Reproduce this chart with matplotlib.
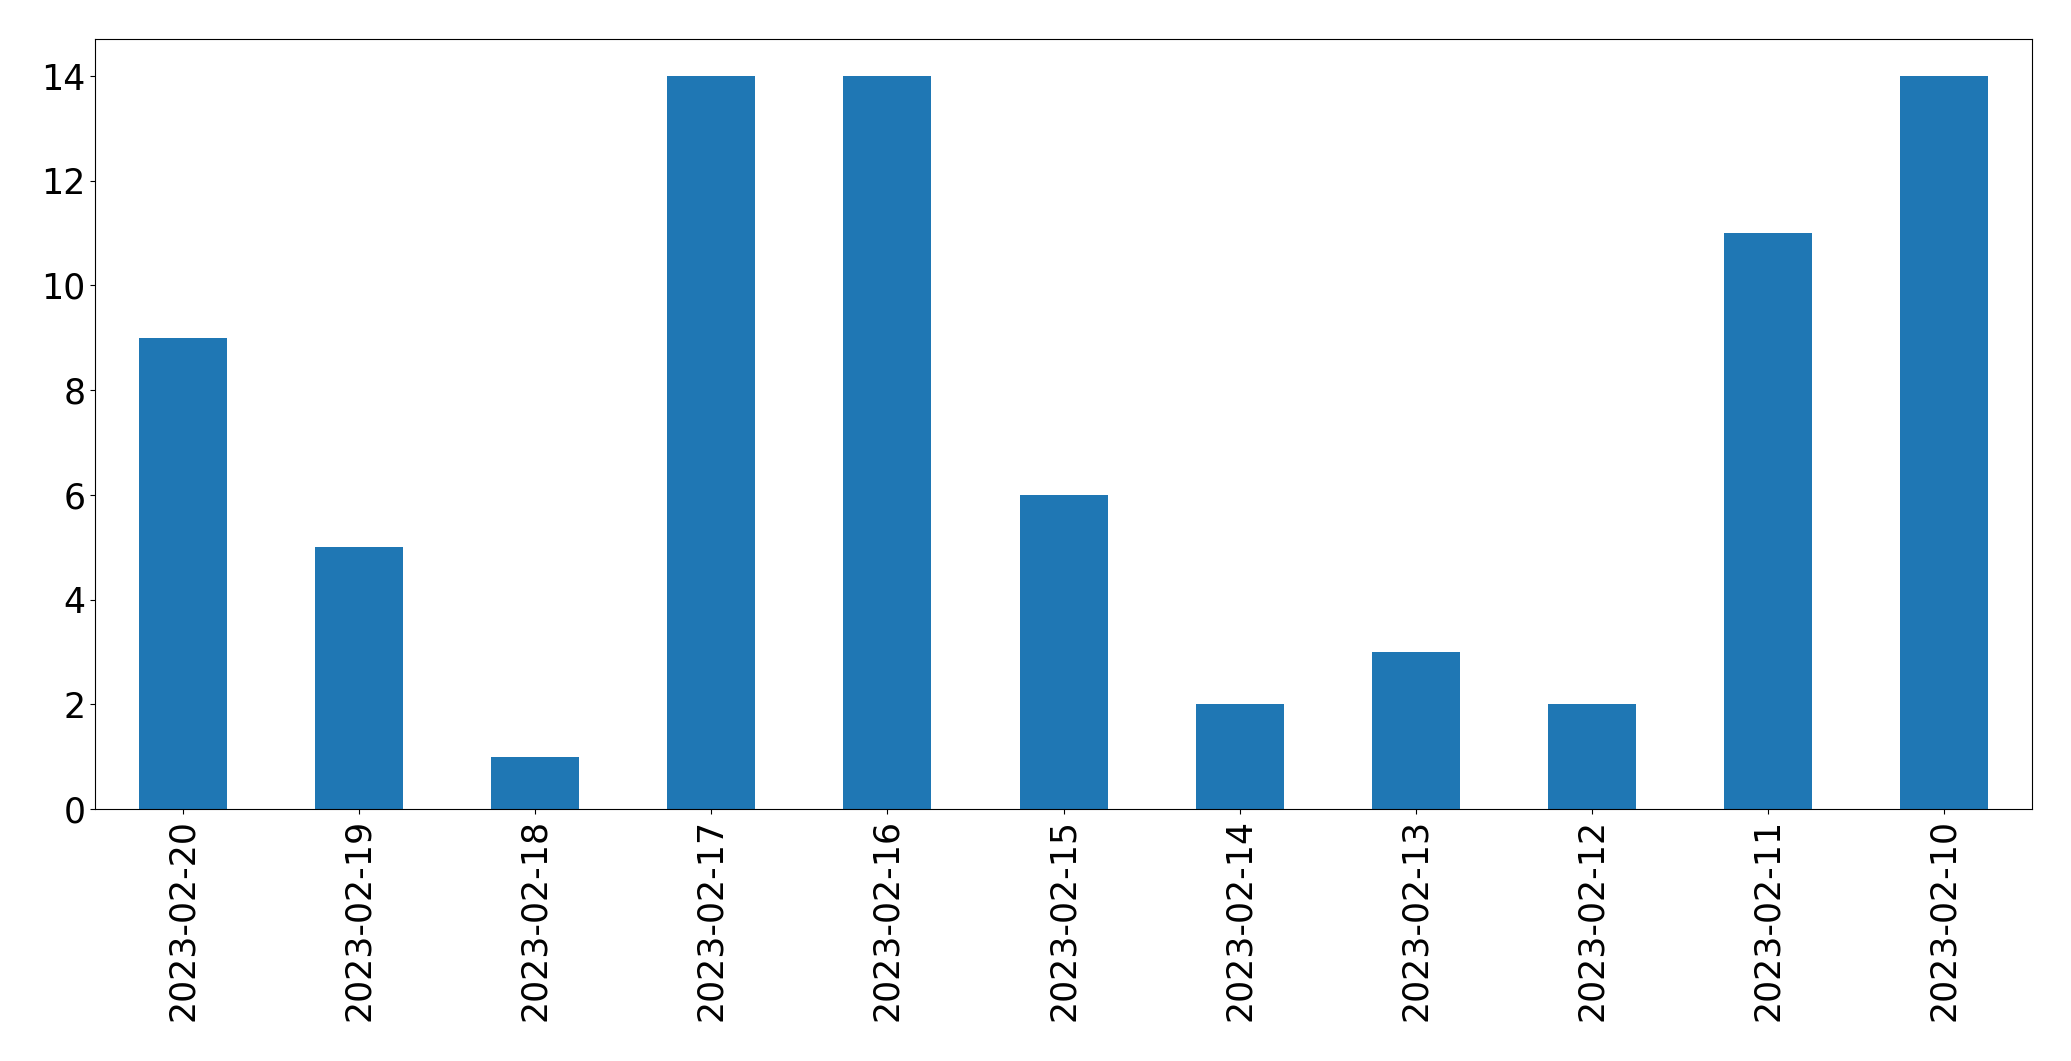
import matplotlib
matplotlib.use("Agg")
import matplotlib.pyplot as plt
import pandas as pd

# dates and counts
dates = ['2023-02-20', '2023-02-19', '2023-02-18', '2023-02-17', '2023-02-16',
         '2023-02-15', '2023-02-14', '2023-02-13', '2023-02-12', '2023-02-11',
         '2023-02-10']
counts = [9, 5, 1, 14, 14, 6, 2, 3, 2, 11, 14]

s = pd.Series(counts, index=dates)

fig = plt.figure(figsize=(20.71, 10.61), dpi=100)
ax = fig.add_axes([0.0459, 0.2375, 0.9353, 0.7254])
s.plot(kind='bar', ax=ax, color='#1f77b4')
ax.tick_params(axis='both', labelsize=25)
plt.setp(ax.get_xticklabels(), rotation=90)

fig.savefig('out.png', dpi=100)
